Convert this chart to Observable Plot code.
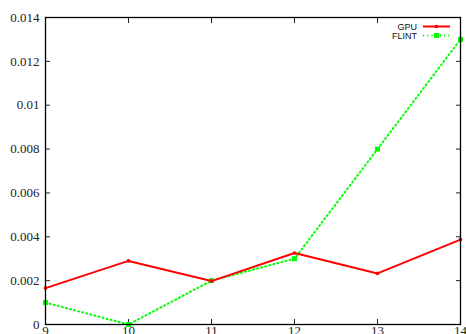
<!DOCTYPE html>
<html>
<head>
<meta charset="utf-8">
<script src="https://cdn.jsdelivr.net/npm/d3@7"></script>
<script src="https://cdn.jsdelivr.net/npm/@observablehq/plot@0.6"></script>
<style>
  html, body { margin: 0; padding: 0; background: #fff; overflow: hidden; }
  #wrap { position: relative; width: 466px; height: 334px; }
  #legend { position: absolute; left: 0; top: 0; }
  #wrap svg text { font-family: 'Liberation Serif', 'DejaVu Serif', serif; }
  #legend text { font-family: 'Liberation Sans', Arial, sans-serif !important; }
</style>
</head>
<body>
<div id="wrap"></div>
<script>
const xValues = [9, 10, 11, 12, 13, 14];
const gpu = [0.00166, 0.0029, 0.00198, 0.00326, 0.00233, 0.00387];
const flint = [0.001, 0.0, 0.002, 0.003, 0.008, 0.013];
const xTicks = [9, 10, 11, 12, 13, 14];
const yTicks = [0, 0.002, 0.004, 0.006, 0.008, 0.010, 0.012, 0.014];
const yTickLabels = ["0", "0.002", "0.004", "0.006", "0.008", "0.01", "0.012", "0.014"];
const seriesNames = ["GPU", "FLINT"];
const seriesColors = ["#ff0000", "#00ff00"];

const gpuData = xValues.map((x, i) => ({x, y: gpu[i]}));
const flintData = xValues.map((x, i) => ({x, y: flint[i]}));
const yLabelMap = new Map(yTicks.map((t, i) => [t, yTickLabels[i]]));

const serif = "'Liberation Serif', 'DejaVu Serif', serif";
const dash = "1.2,3";

const chart = Plot.plot({
  width: 466,
  height: 334,
  marginLeft: 45,
  marginRight: 6,
  marginTop: 17,
  marginBottom: 10,
  style: {background: "#fff", fontFamily: serif, fontSize: "13px", color: "#222"},
  x: {domain: [9, 14]},
  y: {domain: [0, 0.014]},
  marks: [
    Plot.axisY(yTicks, {anchor: "left", tickSize: 0, tickPadding: 6, tickFormat: d => yLabelMap.get(d), fontSize: 13, fontFamily: serif, fill: "#222", label: null}),
    Plot.axisX(xTicks, {anchor: "bottom", tickSize: 0, tickPadding: 1, tickFormat: d => String(d), fontSize: 13, fontFamily: serif, fill: "#222", label: null}),
    Plot.axisY(yTicks, {anchor: "left", tickSize: -5, text: null, label: null}),
    Plot.axisY(yTicks, {anchor: "right", tickSize: -5, text: null, label: null}),
    Plot.axisX(xTicks, {anchor: "bottom", tickSize: -5, text: null, label: null}),
    Plot.axisX(xTicks, {anchor: "top", tickSize: -5, text: null, label: null}),
    Plot.lineY(flintData, {x: "x", y: "y", stroke: seriesColors[1], strokeWidth: 2, strokeDasharray: dash}),
    Plot.dot(flintData, {x: "x", y: "y", symbol: "square", r: 2.8, fill: seriesColors[1]}),
    Plot.lineY(gpuData, {x: "x", y: "y", stroke: seriesColors[0], strokeWidth: 2}),
    Plot.dot(gpuData, {x: "x", y: "y", r: 1.8, fill: seriesColors[0]}),
    Plot.frame({stroke: "#000", strokeWidth: 1.3})
  ]
});

const wrap = document.getElementById("wrap");
wrap.appendChild(chart);

const ns = "http://www.w3.org/2000/svg";
const leg = document.createElementNS(ns, "svg");
leg.setAttribute("id", "legend");
leg.setAttribute("width", 466);
leg.setAttribute("height", 60);
const rows = [
  {name: seriesNames[0], color: seriesColors[0], y: 26.5, dash: null, sym: "dot"},
  {name: seriesNames[1], color: seriesColors[1], y: 35.5, dash: dash, sym: "square"}
];
for (const r of rows) {
  const t = document.createElementNS(ns, "text");
  t.setAttribute("x", 417);
  t.setAttribute("y", r.y + 3.3);
  t.setAttribute("text-anchor", "end");
  t.setAttribute("font-size", "9");
  t.setAttribute("fill", "#111");
  t.textContent = r.name;
  leg.appendChild(t);
  const l = document.createElementNS(ns, "line");
  l.setAttribute("x1", 423); l.setAttribute("x2", 450);
  l.setAttribute("y1", r.y); l.setAttribute("y2", r.y);
  l.setAttribute("stroke", r.color);
  l.setAttribute("stroke-width", 2);
  if (r.dash) l.setAttribute("stroke-dasharray", r.dash);
  leg.appendChild(l);
  if (r.sym === "dot") {
    const c = document.createElementNS(ns, "circle");
    c.setAttribute("cx", 436.5); c.setAttribute("cy", r.y); c.setAttribute("r", 1.8);
    c.setAttribute("fill", r.color);
    leg.appendChild(c);
  } else {
    const s = document.createElementNS(ns, "rect");
    s.setAttribute("x", 434); s.setAttribute("y", r.y - 2.5);
    s.setAttribute("width", 5); s.setAttribute("height", 5);
    s.setAttribute("fill", r.color);
    leg.appendChild(s);
  }
}
wrap.appendChild(leg);
</script>
</body>
</html>
